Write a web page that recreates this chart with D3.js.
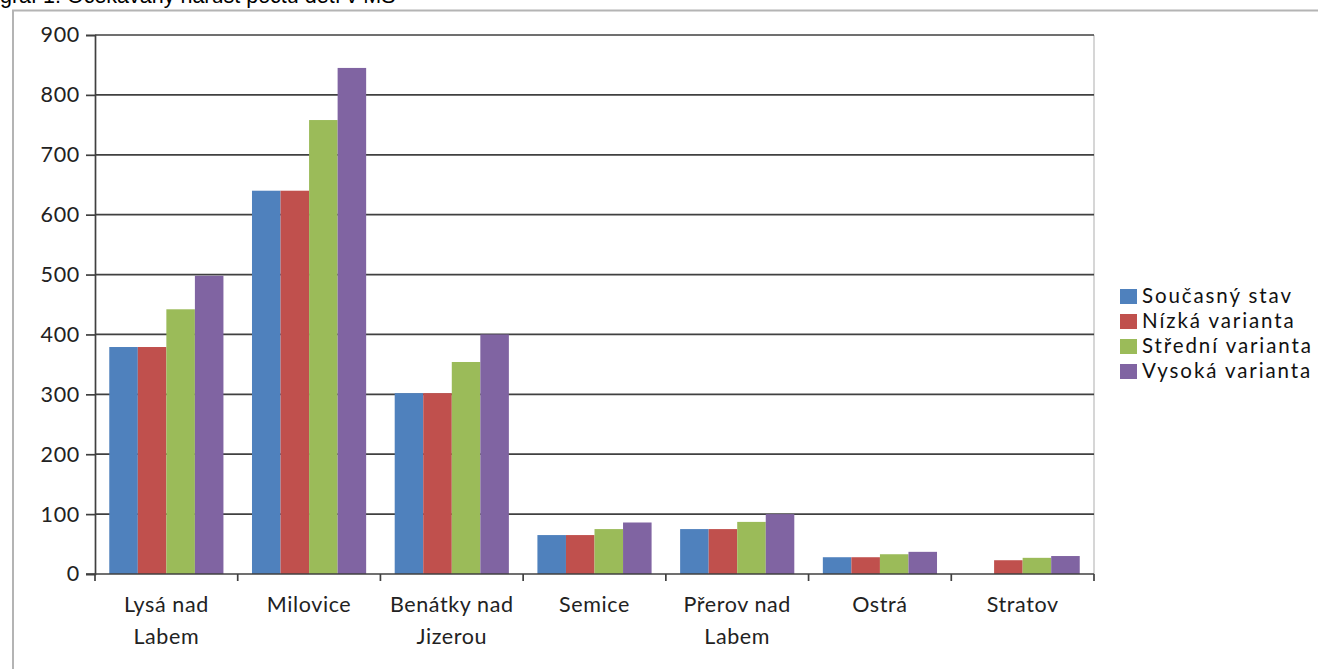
<!DOCTYPE html>
<html>
<head>
<meta charset="utf-8">
<script src="https://cdn.jsdelivr.net/npm/d3@7"></script>
<style>
  body { margin: 0; background: #fff; overflow: hidden; }
  svg { display: block; }
</style>
</head>
<body>
<script>
const categories = [
  ['Lysá nad', 'Labem'],
  ['Milovice'],
  ['Benátky nad', 'Jizerou'],
  ['Semice'],
  ['Přerov nad', 'Labem'],
  ['Ostrá'],
  ['Stratov']
];
const seriesNames = ['Současný stav', 'Nízká varianta', 'Střední varianta', 'Vysoká varianta'];
const soucasny = [379, 640, 302, 65, 75, 28, 0];
const nizka = [379, 640, 302, 65, 75, 28, 23];
const stredni = [442, 758, 354, 75, 87, 33, 27];
const vysoka = [498, 845, 400, 86, 100, 37, 30];
const yTicks = [0, 100, 200, 300, 400, 500, 600, 700, 800, 900];
const colors = ['#4f81bd', '#c0504d', '#9bbb59', '#8064a2'];

const W = 1318, H = 669;
const margin = { left: 95, right: 224, top: 35, bottom: 95 };
const labelFont = 'Lato, "Open Sans", sans-serif';

const svg = d3.select('body').append('svg')
  .attr('width', W)
  .attr('height', H);

// title (partly cut off above the page, as in the source)
svg.append('text')
  .attr('x', 0)
  .attr('y', 3)
  .attr('font-family', '"Liberation Sans", Arial, sans-serif')
  .attr('font-size', 21.5)
  .attr('fill', '#000')
  .text('graf 1: Očekávaný nárůst počtu dětí v MŠ');

// chart frame
svg.append('path')
  .attr('d', `M13,${H + 5}V10.5H${W + 5}`)
  .attr('fill', 'none')
  .attr('stroke', '#b4b4b4')
  .attr('stroke-width', 2);

const x0 = d3.scaleBand()
  .domain(d3.range(categories.length))
  .range([margin.left, W - margin.right]);

const x1 = d3.scaleBand()
  .domain(d3.range(seriesNames.length))
  .range([0, x0.bandwidth()])
  .paddingOuter(0.5);

const y = d3.scaleLinear()
  .domain([0, 900])
  .range([H - margin.bottom, margin.top]);

// plot area right border
svg.append('line')
  .attr('x1', W - margin.right).attr('x2', W - margin.right)
  .attr('y1', margin.top).attr('y2', H - margin.bottom)
  .attr('stroke', '#c8c8c8')
  .attr('stroke-width', 1.5);

// gridlines
svg.append('g')
  .selectAll('line')
  .data(yTicks.filter((d) => d > 0))
  .join('line')
  .attr('x1', margin.left)
  .attr('x2', W - margin.right)
  .attr('y1', (d) => y(d))
  .attr('y2', (d) => y(d))
  .attr('stroke', '#404040')
  .attr('stroke-width', 1.7);

// bars
const values = [soucasny, nizka, stredni, vysoka];
const groups = svg.append('g')
  .selectAll('g')
  .data(values)
  .join('g')
  .attr('fill', (d, i) => colors[i]);

groups.selectAll('rect')
  .data((d, si) => d.map((v, ci) => ({ v, ci, si })))
  .join('rect')
  .attr('x', (d) => x0(d.ci) + x1(d.si))
  .attr('width', x1.bandwidth())
  .attr('y', (d) => y(d.v))
  .attr('height', (d) => y(0) - y(d.v));

// y axis
const yAxis = svg.append('g')
  .attr('transform', `translate(${margin.left},0)`)
  .call(d3.axisLeft(y).tickValues(yTicks).tickSize(9).tickPadding(6));
yAxis.select('.domain').attr('stroke', '#404040').attr('stroke-width', 1.7);
yAxis.selectAll('.tick line').attr('stroke', '#404040').attr('stroke-width', 1.7);
yAxis.selectAll('.tick text')
  .attr('font-family', labelFont)
  .attr('font-size', 21.5)
  .attr('letter-spacing', 0.7)
  .attr('fill', '#222');

// x axis
const xAxis = svg.append('g')
  .attr('transform', `translate(0,${y(0)})`);
xAxis.append('line')
  .attr('x1', margin.left - 9)
  .attr('x2', W - margin.right)
  .attr('stroke', '#404040')
  .attr('stroke-width', 1.7);
xAxis.selectAll('.cat-tick')
  .data(d3.range(categories.length + 1))
  .join('line')
  .attr('class', 'cat-tick')
  .attr('x1', (d) => margin.left + d * x0.step())
  .attr('x2', (d) => margin.left + d * x0.step())
  .attr('y1', 0)
  .attr('y2', 7)
  .attr('stroke', '#404040')
  .attr('stroke-width', 1.7);

const catLabels = xAxis.selectAll('text')
  .data(categories)
  .join('text')
  .attr('x', (d, i) => x0(i) + x0.bandwidth() / 2)
  .attr('y', 38)
  .attr('text-anchor', 'middle')
  .attr('font-family', labelFont)
  .attr('font-size', 21.5)
  .attr('letter-spacing', 0.6)
  .attr('fill', '#222');
catLabels.selectAll('tspan')
  .data((d) => d)
  .join('tspan')
  .attr('x', function () { return this.parentNode.getAttribute('x'); })
  .attr('dy', (d, i) => (i === 0 ? 0 : 32))
  .text((d) => d);

// legend
const legend = svg.append('g')
  .attr('transform', 'translate(1120,289)');
const items = legend.selectAll('g')
  .data(seriesNames)
  .join('g')
  .attr('transform', (d, i) => `translate(0,${i * 25})`);
items.append('rect')
  .attr('width', 17)
  .attr('height', 15)
  .attr('fill', (d, i) => colors[i]);
items.append('text')
  .attr('x', 22)
  .attr('y', 14)
  .attr('font-family', labelFont)
  .attr('font-size', 20.5)
  .attr('letter-spacing', 1.9)
  .attr('fill', '#111')
  .text((d) => d);
</script>
</body>
</html>
